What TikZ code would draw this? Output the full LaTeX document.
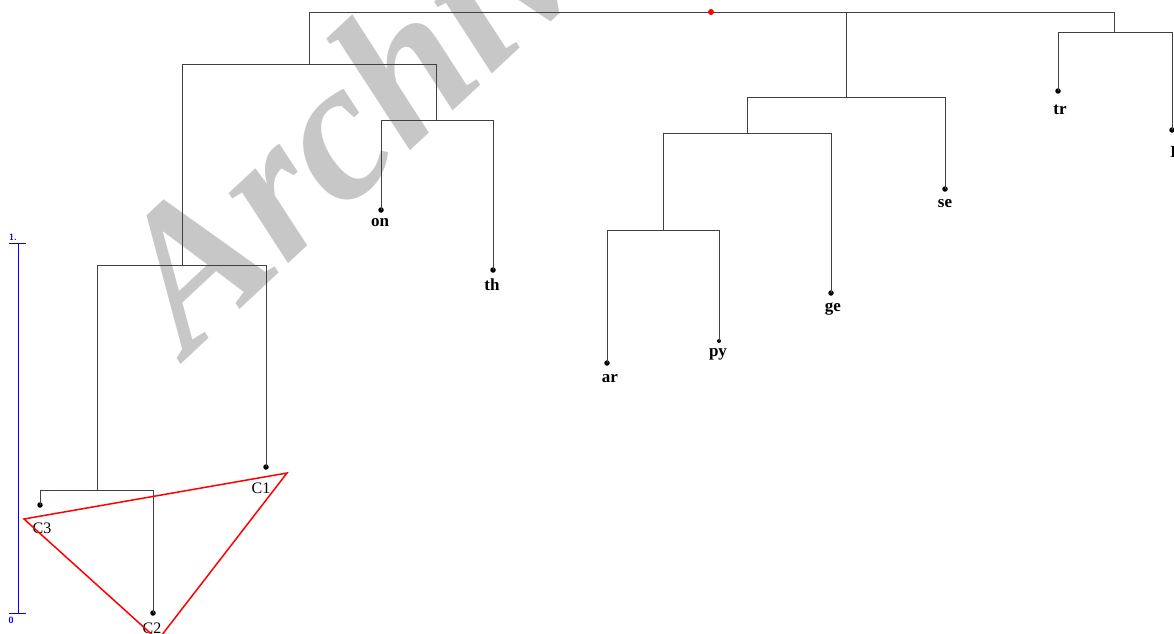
\documentclass[tikz,border=0pt]{standalone}
\usepackage{fontspec}
\setmainfont{Liberation Serif}
\newfontfamily\wmfont{Liberation Serif}
\begin{document}
\begin{tikzpicture}[x=1pt,y=-1pt,
  branch/.style={draw=black!75, line width=0.9pt},
  leafdot/.style={circle, fill=black, inner sep=0pt, minimum size=5.5pt},
  leaflab/.style={font=\fontsize{17}{17}\selectfont\bfseries, inner sep=0pt},
  clab/.style={font=\fontsize{16}{16}\selectfont, inner sep=0pt},
  scalelab/.style={font=\sffamily\fontsize{9}{9}\selectfont\bfseries, text=blue, inner sep=0pt},
  scalebar/.style={draw=blue, line width=1pt},
  tri/.style={draw=red, line width=1.5pt, line join=miter}]
\useasboundingbox (0,0) rectangle (1174,633);
\clip (0,0) rectangle (1174,633);
% watermark
\node[anchor=base west, inner sep=0pt, rotate=43, text=black!22,
  font=\wmfont\bfseries\itshape\fontsize{200}{200}\selectfont] (wm) at (188,358) {Archive};
% internal junctions
\coordinate (root) at (711,12);
\coordinate (A) at (309,64);
\coordinate (D) at (436,120);
\coordinate (B) at (182,265);
\coordinate (E) at (97,490);
\coordinate (M) at (846,97);
\coordinate (F) at (747,133);
\coordinate (G) at (663,230);
\coordinate (R) at (1114,32);
% leaves
\node[leafdot] (on) at (381,210) {};
\node[leafdot] (th) at (493,270) {};
\node[leafdot] (c1) at (266,467) {};
\node[leafdot] (c3) at (40,505) {};
\node[leafdot] (c2) at (153,613) {};
\node[leafdot] (se) at (945,189) {};
\node[leafdot] (ge) at (831,293) {};
\node[leafdot] (ar) at (607,363) {};
\node[leafdot, minimum size=4pt] (py) at (719,341) {};
\node[leafdot] (tr) at (1058,91) {};
\node[leafdot] (lx) at (1172,130) {};
% branches
\draw[branch] (root) -| (A);
\draw[branch] (root) -| (M);
\draw[branch] (root) -| (R);
\draw[branch] (A) -| (B);
\draw[branch] (A) -| (D);
\draw[branch] (D) -| (on.center);
\draw[branch] (D) -| (th.center);
\draw[branch] (B) -| (E);
\draw[branch] (B) -| (c1.center);
\draw[branch] (E) -| (c3.center);
\draw[branch] (E) -| (c2.center);
\draw[branch] (M) -| (F);
\draw[branch] (M) -| (se.center);
\draw[branch] (F) -| (G);
\draw[branch] (F) -| (ge.center);
\draw[branch] (G) -| (ar.center);
\draw[branch] (G) -| (py.center);
\draw[branch] (R) -| (tr.center);
\draw[branch] (R) -| (lx.center);
\fill[red] (root) circle (3pt);
% leaf labels
\node[leaflab] (lon) at (380,223) {on};
\node[leaflab] (lth) at (492,285) {th};
\node[leaflab] (lse) at (945,204) {se};
\node[leaflab] (lge) at (833,309) {ge};
\node[leaflab] (lar) at (610,379) {ar};
\node[leaflab] (lpy) at (718,354) {py};
\node[leaflab] (ltr) at (1060,110) {tr};
\node[leaflab, anchor=west] (llx) at (1170,152) {I};
\node[clab] (lc1) at (261,488) {C1};
\node[clab] (lc3) at (42,528) {C3};
\node[clab] (lc2) at (152,628) {C2};
% scale bar
\coordinate (s1) at (18,243);
\coordinate (s0) at (18,613);
\coordinate (s1l) at (9,243);
\coordinate (s1r) at (26,243);
\coordinate (s0l) at (9,613);
\coordinate (s0r) at (26,613);
\draw[scalebar] (s1) -- (s0);
\draw[scalebar] (s1l) -- (s1r);
\draw[scalebar] (s0l) -- (s0r);
\node[scalelab] (t1) at (13,237) {1.};
\node[scalelab] (t0) at (11,620) {0};
% red triangle
\coordinate (v3) at (24,519);
\coordinate (v1) at (287,473);
\coordinate (v2) at (158,640);
\draw[tri] (v3) -- (v1) -- (v2) -- cycle;
\end{tikzpicture}
\end{document}
